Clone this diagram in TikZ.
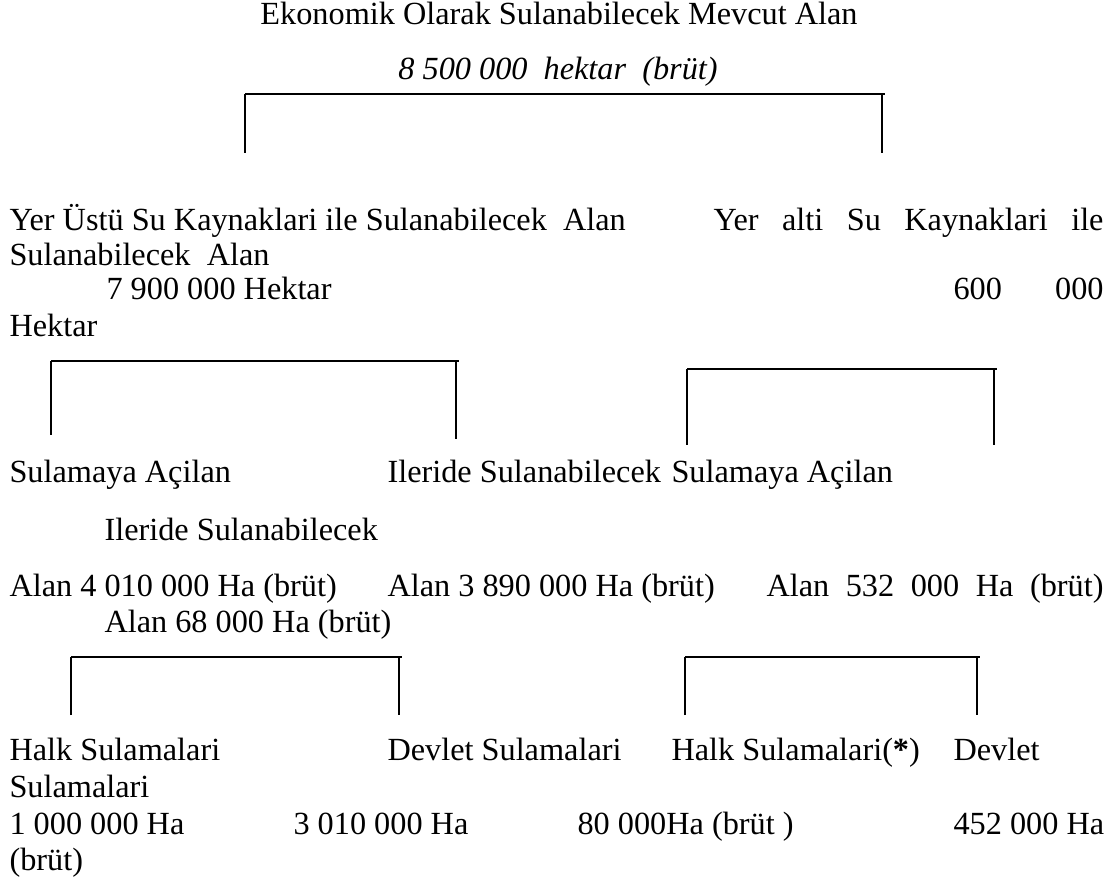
\documentclass[tikz,border=0pt]{standalone}
\usepackage{fontspec}
\setmainfont{Liberation Serif}
\def\pxunit{0.381pt}
\newdimen\pxlen
\pxlen=0.381pt
\newcommand{\spreadbox}[2]{\makebox[#1\pxlen][s]{#2}}
\tikzset{
    lbl/.style={anchor=base west, inner sep=0pt, font=\fontsize{12.3}{14}\selectfont},
    headlbl/.style={anchor=base, inner sep=0pt, font=\fontsize{12.3}{14}\selectfont},
    barline/.style={line width=0.8pt},
    stemline/.style={line width=0.45pt},
}

\begin{document}
\begin{tikzpicture}[x=\pxunit,y=-\pxunit]
    \useasboundingbox (0,0) rectangle (1117,881);
    % heading
    \node[headlbl] (title) at (559,25) {Ekonomik Olarak Sulanabilecek Mevcut Alan};
    \node[headlbl] (total) at (558,80) {\itshape 8 500 000\ \ hektar\ \ (brüt)};
    % brackets: name / left x / right x / top y / left bottom / right bottom
    \foreach \n/\xl/\xr/\yt/\ybl/\ybr in {top/245/882/94/153/153,
                                          surf/51/456/361/435/439,
                                          grnd/687/994/369/445/445,
                                          open/71/399/657/715/715,
                                          gopen/685/977/657/715/715}
    {
        \coordinate (\n-bl) at (\xl,\ybl);
        \coordinate (\n-tl) at (\xl,\yt);
        \coordinate (\n-tr) at (\xr,\yt);
        \coordinate (\n-br) at (\xr,\ybr);
        \draw[stemline] (\n-bl) -- (\n-tl);
        \draw[barline] (\n-tl) -- ([xshift=1]\n-tr);
        \draw[stemline] (\n-tr) -- (\n-br);
    }
    % second level
    \node[lbl] (surf) at (9,231) {Yer Üstü Su Kaynaklari ile Sulanabilecek\ \ Alan};
    \node[lbl] (grnd) at (713,231) {\spreadbox{390}{Yer alti Su Kaynaklari ile}};
    \node[lbl] (surfcont) at (9,266) {Sulanabilecek\ \ Alan};
    \node[lbl] (surfha) at (106,300) {7 900 000 Hektar};
    \node[lbl] (grndha) at (953,300) {\spreadbox{150}{600 000}};
    \node[lbl] (grndhacont) at (9,337) {Hektar};
    % third level
    \node[lbl] (surfopen) at (9,483) {Sulamaya Açilan};
    \node[lbl] (surffut) at (387,483) {Ileride Sulanabilecek};
    \node[lbl] (grndopen) at (671,483) {Sulamaya Açilan};
    \node[lbl] (grndfut) at (104,540) {Ileride Sulanabilecek};
    \node[lbl] (surfopenha) at (9,596) {Alan 4 010 000 Ha (brüt)};
    \node[lbl] (surffutha) at (387,596) {Alan 3 890 000 Ha (brüt)};
    \node[lbl] (grndopenha) at (766,596) {\spreadbox{337}{Alan 532 000 Ha (brüt)}};
    \node[lbl] (grndfutha) at (104,632) {Alan 68 000 Ha (brüt)};
    % fourth level
    \node[lbl] (halk) at (9,760) {Halk Sulamalari};
    \node[lbl] (devlet) at (387,760) {Devlet Sulamalari};
    \node[lbl] (ghalk) at (671,760) {Halk Sulamalari(\textbf{*})};
    \node[lbl] (gdevlet) at (953,760) {Devlet};
    \node[lbl] (gdevletcont) at (9,797) {Sulamalari};
    \node[lbl] (halkha) at (9,834) {1 000 000 Ha};
    \node[lbl] (devletha) at (293,834) {3 010 000 Ha};
    \node[lbl] (ghalkha) at (577,834) {80 000Ha (brüt )};
    \node[lbl] (gdevletha) at (953,834) {452 000 Ha};
    \node[lbl] (gdevlethacont) at (9,870) {(brüt)};
\end{tikzpicture}
\end{document}
